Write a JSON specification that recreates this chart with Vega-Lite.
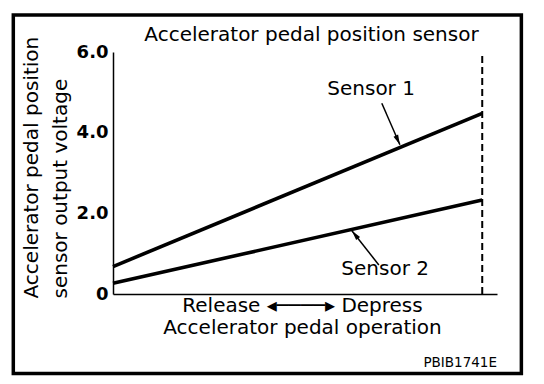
{
  "$schema": "https://vega.github.io/schema/vega-lite/v6.json",
  "width": 384,
  "height": 242,
  "autosize": {"type": "none"},
  "padding": {"left": 113, "top": 52, "right": 47, "bottom": 90},
  "background": "white",
  "config": {"view": {"stroke": null}, "font": "DejaVu Sans"},
  "title": {
    "text": "Accelerator pedal position sensor",
    "font": "DejaVu Sans",
    "fontSize": 20,
    "fontWeight": "normal",
    "color": "black",
    "anchor": "middle",
    "frame": "group",
    "dx": 6.5,
    "baseline": "alphabetic",
    "offset": -48
  },
  "layer": [
    {
      "data": {
        "values": [
          {"sensor": "Sensor 1", "pedal": 0, "voltage": 0.68},
          {"sensor": "Sensor 1", "pedal": 100, "voltage": 4.48},
          {"sensor": "Sensor 2", "pedal": 0, "voltage": 0.265},
          {"sensor": "Sensor 2", "pedal": 100, "voltage": 2.33}
        ]
      },
      "mark": {"type": "line", "color": "black", "strokeWidth": 3.6, "strokeCap": "butt"},
      "encoding": {
        "x": {
          "field": "pedal",
          "type": "quantitative",
          "scale": {"domain": [0, 104], "nice": false, "zero": false},
          "axis": {
            "labels": false,
            "ticks": false,
            "grid": false,
            "domainColor": "black",
            "domainWidth": 1.5,
            "title": ["Release ◂────▸ Depress", "Accelerator pedal operation"],
            "titleFont": "DejaVu Sans",
            "titleFontSize": 20,
            "titleFontWeight": "normal",
            "titleColor": "black",
            "titleX": 189,
            "titleY": 17,
            "titleAlign": "center",
            "titleBaseline": "alphabetic",
            "titleLineHeight": 22
          }
        },
        "y": {
          "field": "voltage",
          "type": "quantitative",
          "scale": {"domain": [0, 6], "nice": false, "zero": false},
          "axis": {
            "values": [0, 2, 4, 6],
            "labelExpr": "datum.value == 0 ? '0' : format(datum.value, '.1f')",
            "labelFont": "DejaVu Sans",
            "labelFontSize": 18,
            "labelFontWeight": "bold",
            "labelColor": "black",
            "labelPadding": 5,
            "labelFlush": false,
            "labelOverlap": false,
            "ticks": false,
            "grid": false,
            "domainColor": "black",
            "domainWidth": 1.5,
            "title": ["Accelerator pedal position", "sensor output voltage"],
            "titleFont": "DejaVu Sans",
            "titleFontSize": 20,
            "titleFontWeight": "normal",
            "titleColor": "black",
            "titleAngle": 270,
            "titleAlign": "left",
            "titleBaseline": "top",
            "titleX": -92,
            "titleY": 246,
            "titleLineHeight": 29
          }
        },
        "detail": {"field": "sensor"}
      }
    },
    {
      "data": {"values": [{"pedal": 100}]},
      "mark": {"type": "rule", "color": "black", "strokeWidth": 2, "strokeDash": [7, 4]},
      "encoding": {
        "x": {"field": "pedal", "type": "quantitative"},
        "y": {"datum": 0, "type": "quantitative"},
        "y2": {"datum": 5.95}
      }
    },
    {
      "data": {
        "values": [
          {"label": "Sensor 1", "pedal": 69.9, "voltage": 4.93},
          {"label": "Sensor 2", "pedal": 73.7, "voltage": 0.47}
        ]
      },
      "mark": {"type": "text", "font": "DejaVu Sans", "fontSize": 20, "align": "center", "baseline": "alphabetic", "color": "black"},
      "encoding": {
        "x": {"field": "pedal", "type": "quantitative"},
        "y": {"field": "voltage", "type": "quantitative"},
        "text": {"field": "label"}
      }
    },
    {
      "data": {
        "values": [
          {"label": "Sensor 1", "pedal": 72.8, "voltage": 4.73, "pedal2": 77.7, "voltage2": 3.7},
          {"label": "Sensor 2", "pedal": 72.0, "voltage": 0.72, "pedal2": 64.7, "voltage2": 1.57}
        ]
      },
      "mark": {"type": "rule", "color": "black", "strokeWidth": 1.5},
      "encoding": {
        "x": {"field": "pedal", "type": "quantitative"},
        "y": {"field": "voltage", "type": "quantitative"},
        "x2": {"field": "pedal2"},
        "y2": {"field": "voltage2"}
      }
    },
    {
      "data": {"values": [{"label": "Sensor 1", "pedal": 77.7, "voltage": 3.7}]},
      "mark": {"type": "point", "shape": "M0,0L-0.25,1L0.25,1Z", "size": 400, "filled": true, "color": "black", "opacity": 1, "angle": 156},
      "encoding": {
        "x": {"field": "pedal", "type": "quantitative"},
        "y": {"field": "voltage", "type": "quantitative"}
      }
    },
    {
      "data": {"values": [{"label": "Sensor 2", "pedal": 64.7, "voltage": 1.57}]},
      "mark": {"type": "point", "shape": "M0,0L-0.25,1L0.25,1Z", "size": 400, "filled": true, "color": "black", "opacity": 1, "angle": 321.5},
      "encoding": {
        "x": {"field": "pedal", "type": "quantitative"},
        "y": {"field": "voltage", "type": "quantitative"}
      }
    },
    {
      "data": {"values": [{"code": "PBIB1741E"}]},
      "mark": {"type": "text", "font": "DejaVu Sans", "fontSize": 13.5, "align": "right", "baseline": "alphabetic", "color": "black", "clip": false},
      "encoding": {
        "x": {"datum": 104, "type": "quantitative"},
        "y": {"datum": -1.81, "type": "quantitative"},
        "text": {"field": "code"}
      }
    },
    {
      "data": {"values": [{}]},
      "mark": {"type": "rect", "filled": false, "stroke": "black", "strokeWidth": 3.5, "clip": false},
      "encoding": {
        "x": {"datum": -27, "type": "quantitative"},
        "x2": {"datum": 110.6},
        "y": {"datum": 6.918, "type": "quantitative"},
        "y2": {"datum": -1.971}
      }
    }
  ]
}
